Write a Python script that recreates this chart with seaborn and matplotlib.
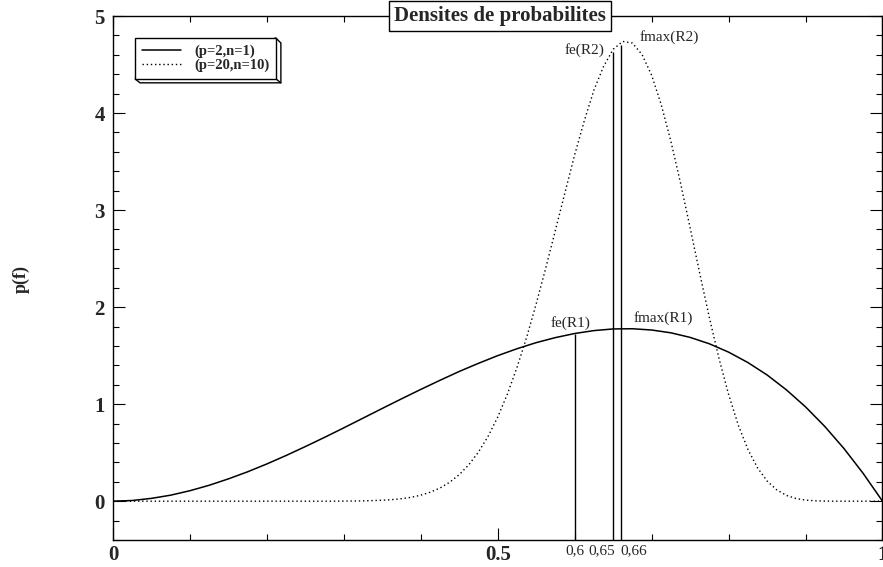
"""Probability densities for the two parameter sets, with fe/fmax markers."""
import matplotlib

matplotlib.use("Agg")
import matplotlib.pyplot as plt
import numpy as np
import seaborn as sns
from matplotlib.lines import Line2D
from matplotlib.patches import Polygon
from matplotlib.ticker import MultipleLocator
from matplotlib.transforms import IdentityTransform, blended_transform_factory

# f grid for the solid curve, step 0.025 from 0 to 1
f_grid = np.linspace(0.0, 1.0, 41)
# finer f grid for the narrow dotted curve, step 0.0125
f_fine = np.linspace(0.0, 1.0, 81)

# density for (p=2, n=1)
dens_r1 = [0.000, 0.007, 0.029, 0.062, 0.108, 0.164, 0.230, 0.303, 0.384, 0.471,
           0.563, 0.658, 0.756, 0.856, 0.956, 1.055, 1.152, 1.246, 1.337, 1.421,
           1.500, 1.571, 1.634, 1.686, 1.728, 1.758, 1.775, 1.777, 1.764, 1.735,
           1.688, 1.622, 1.536, 1.429, 1.301, 1.148, 0.972, 0.770, 0.542, 0.285,
           0.000]

# density for (p=20, n=10)
dens_r2 = [0.000] * 24 + [
    0.001, 0.002, 0.003, 0.006, 0.010, 0.016, 0.026, 0.040,
    0.062, 0.093, 0.136, 0.195, 0.274, 0.376, 0.507, 0.669,
    0.867, 1.103, 1.378, 1.687, 2.035, 2.406, 2.795, 3.184,
    3.571, 3.921, 4.237, 4.480, 4.657, 4.738, 4.721, 4.603,
    4.389, 4.085, 3.709, 3.279, 2.817, 2.347, 1.892, 1.471,
    1.100, 0.786, 0.535, 0.345, 0.208, 0.117, 0.060, 0.028,
    0.011, 0.004, 0.001, 0.000, 0.000, 0.000, 0.000, 0.000,
    0.000]

series_labels = ["(p=2,n=1)", "(p=20,n=10)"]

# vertical markers: fe(R1), fe(R2), fmax(R2)
marker_x = [0.6, 0.65, 0.66]
marker_top = [1.728, 4.63, 4.70]
marker_labels = ["0,6", "0,65", "0,66"]

Y_MIN, Y_MAX = -0.4, 5.0

sns.set_style("ticks")
plt.rcParams["font.family"] = ["Liberation Serif", "DejaVu Serif"]

fig = plt.figure(figsize=(8.83, 5.67), dpi=100)
ax = fig.add_axes([113 / 883, 1 - 540 / 567, 769.5 / 883, 524 / 567])

dotted = (0, (1, 2))
sns.lineplot(x=f_grid, y=dens_r1, color="black", lw=1.1, ax=ax)
sns.lineplot(x=f_fine, y=dens_r2, color="black", lw=1.0, linestyle=dotted, ax=ax)

ax.vlines(marker_x, Y_MIN, marker_top, colors="black", lw=1.0)

ax.set_xlim(0, 1)
ax.set_ylim(Y_MIN, Y_MAX)
ax.set_xlabel("")
ax.set_ylabel("")

ax.set_xticks([0, 0.5, 1], ["0", "0.5", "1"])
ax.set_yticks([0, 1, 2, 3, 4, 5], ["0", "1", "2", "3", "4", "5"])
ax.xaxis.set_minor_locator(MultipleLocator(0.1))
ax.yaxis.set_minor_locator(MultipleLocator(0.2))
for lab in ax.get_xticklabels() + ax.get_yticklabels():
    lab.set_fontweight("bold")
    lab.set_fontsize(15)

ax.tick_params(which="both", direction="in", top=True, right=True, width=0.8, color="black")
ax.tick_params(which="major", length=8.5)
ax.tick_params(which="minor", length=4)
ax.tick_params(axis="x", which="major", pad=3.5)
ax.tick_params(axis="y", which="major", pad=6)
for sp in ax.spines.values():
    sp.set_linewidth(1.0)
    sp.set_color("black")

# extra tick labels under the marker lines
trans = blended_transform_factory(ax.transData, ax.transAxes)
ax.text(0.6, -0.008, marker_labels[0], transform=trans, ha="center", va="top", fontsize=11)
ax.text(0.653, -0.008, marker_labels[1], transform=trans, ha="right", va="top", fontsize=11)
ax.text(0.66, -0.008, marker_labels[2], transform=trans, ha="left", va="top", fontsize=11)

# curve annotations
ax.text(0.594, 1.76, "fe(R1)", ha="center", va="bottom", fontsize=11)
ax.text(0.676, 1.82, "fmax(R1)", ha="left", va="bottom", fontsize=11)
ax.text(0.639, 4.58, "fe(R2)", ha="right", va="bottom", fontsize=11)
ax.text(0.684, 4.71, "fmax(R2)", ha="left", va="bottom", fontsize=11)

ax.text(0.5026, 1.0, "Densites de probabilites", transform=ax.transAxes,
        ha="center", va="center", fontsize=15, fontweight="bold", zorder=10,
        clip_on=False,
        bbox=dict(boxstyle="square,pad=0.25", fc="white", ec="black", lw=1.0))

fig.text(21 / 883, 1 - 279 / 567, "p(f)", rotation=90, ha="center", va="center",
         fontsize=13, fontweight="bold")

handles = [Line2D([], [], color="black", lw=1.1),
           Line2D([], [], color="black", lw=1.0, linestyle=dotted)]
leg = ax.legend(handles, series_labels, loc="upper left", bbox_to_anchor=(0.0286, 0.958),
                borderaxespad=0, frameon=True, fancybox=False, edgecolor="black",
                framealpha=1, borderpad=0.45, handlelength=2.7, handletextpad=0.9,
                labelspacing=0.05,
                prop={"family": "Liberation Serif", "weight": "bold", "size": 10.5})
leg.get_frame().set_linewidth(1.0)

# bevelled shadow around the legend box
fig.canvas.draw()
bb = leg.get_window_extent()
x0, y0, x1, y1 = bb.x0, bb.y0, bb.x1, bb.y1
d = 5
bevel = Polygon([(x1, y1), (x1 + d, y1 - d), (x1 + d, y0 - d + 1), (x0 + d, y0 - d + 1), (x0, y0)],
                closed=True, fc="white", ec="black", lw=1.0,
                transform=IdentityTransform(), zorder=4.9, clip_on=False)
ax.add_patch(bevel)
ax.add_line(Line2D([x1, x1 + d], [y0, y0 - d + 1], color="black", lw=1.0,
                   transform=IdentityTransform(), zorder=4.9, clip_on=False))

fig.savefig("out.png", dpi=100)
